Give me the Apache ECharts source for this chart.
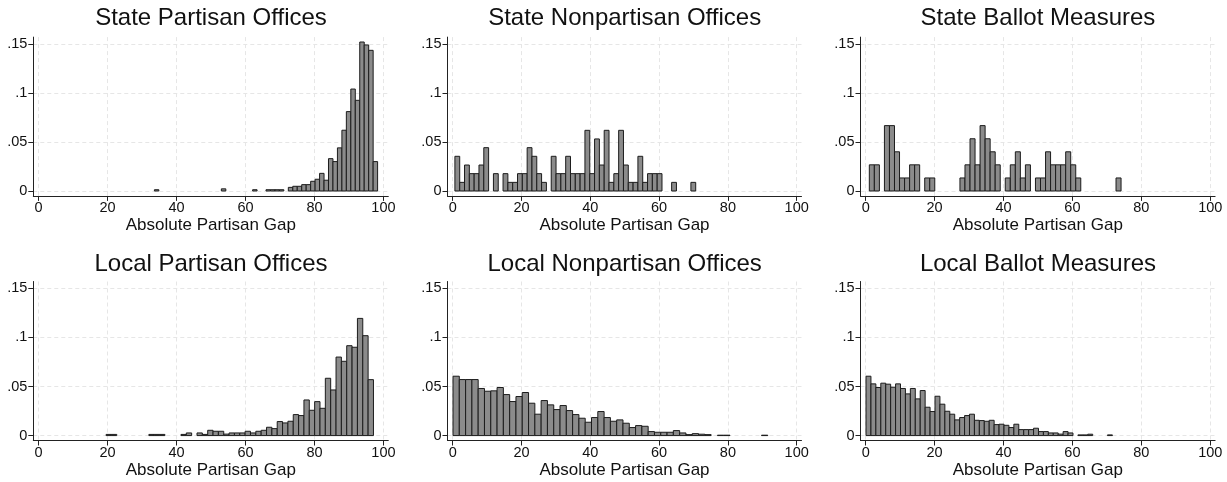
<!DOCTYPE html>
<html><head><meta charset="utf-8">
<script src="https://cdn.jsdelivr.net/npm/echarts@6/dist/echarts.min.js"></script>
<style>html,body{margin:0;padding:0;background:#fff}#c{width:1227px;height:482px}</style>
</head><body><div id="c"></div>
<script>
// ---- data (fractions) ----
const panelTitles = ['State Partisan Offices','State Nonpartisan Offices','State Ballot Measures',
                     'Local Partisan Offices','Local Nonpartisan Offices','Local Ballot Measures'];
const xAxisTitle = 'Absolute Partisan Gap';
const xTickValues = [0,20,40,60,80,100];
const yTickValues = [0,0.05,0.1,0.15];
const yTickLabels = ['0','.05','.1','.15'];

// histogram bins: first edge and bin width per panel (50 bins each)
const binStart = [33.6, 0.65, 1.06, 19.6, 0.1, 0.1];
const binWidth = [1.294, 1.40, 1.461, 1.55, 1.83, 1.43];

const statePartisan = [0.0013,0,0,0,0,0,0,0,0,0,0,0,0,0,0,0.0022,0,0,0,0,0,0,0.0013,0,0,
  0.0013,0.0013,0.0013,0.0013,0,0.0037,0.0048,0.0048,0.0065,0.0065,0.0099,0.012,0.018,0.011,0.033,
  0.030,0.044,0.062,0.081,0.104,0.0925,0.152,0.149,0.1435,0.030];
const stateNonpartisan = [0.0354,0.0088,0.0265,0.0177,0.0177,0.0265,0.0442,0,0.0177,0,
  0.0177,0.0088,0.0088,0.0177,0.0177,0.0442,0.0354,0.0177,0.0088,0,
  0.0354,0.0177,0.0177,0.0354,0.0177,0.0177,0.0177,0.0619,0.0177,0.0531,
  0.0265,0.0619,0.0088,0.0177,0.0619,0.0265,0.0088,0.0088,0.0354,0.0088,
  0.0177,0.0177,0.0177,0,0,0.0088,0,0,0,0.0088];
const stateBallot = [0.0267,0.0267,0,0.0667,0.0667,0.04,0.0133,0.0133,0.0267,0.0267,
  0,0.0133,0.0133,0,0,0,0,0,0.0133,0.0267,
  0.0533,0.0267,0.0667,0.0533,0.04,0.0267,0,0.0133,0.0267,0.04,
  0.0133,0.0267,0,0.0133,0.0133,0.04,0.0267,0.0267,0.0267,0.04,
  0.0267,0.0133,0,0,0,0,0,0,0,0.0133];
const localPartisan = [0.0012,0.0012,0,0,0,0,0,0,0.0012,0.0012,
  0.0012,0,0,0,0.0012,0.0027,0,0.0027,0.0012,0.0054,
  0.0044,0.0044,0.0015,0.0027,0.0027,0.0027,0.0044,0.0027,0.0044,0.0054,
  0.0085,0.0071,0.0143,0.0129,0.0146,0.0214,0.0204,0.0363,0.0258,0.0346,
  0.0278,0.0584,0.0465,0.080,0.0757,0.0916,0.090,0.1194,0.1018,0.057];
const localNonpartisan = [0.0605,0.0571,0.0571,0.0571,0.048,0.0452,0.0456,0.049,0.0418,0.0347,
  0.0398,0.0439,0.033,0.0218,0.0357,0.0313,0.0265,0.0306,0.0255,0.0214,
  0.0177,0.0136,0.0184,0.0245,0.0184,0.0146,0.016,0.0126,0.0082,0.0102,
  0.0095,0.0041,0.0034,0.0034,0.0034,0.0051,0.0027,0.0010,0.0020,0.0014,
  0.0010,0,0.0004,0.0004,0,0,0,0,0,0.0004];
const localBallot = [0.0605,0.0527,0.049,0.0534,0.0524,0.0493,0.0527,0.048,0.0425,0.048,
  0.0374,0.0459,0.0289,0.0245,0.0401,0.032,0.0248,0.0218,0.016,0.0184,
  0.0204,0.0218,0.0156,0.0153,0.0146,0.0156,0.0112,0.0116,0.0105,0.0082,
  0.0116,0.0061,0.0061,0.0061,0.0075,0.0041,0.0041,0.0027,0.0027,0.0015,
  0.0041,0.0027,0,0.0007,0.0007,0.0014,0,0,0,0.0007];
const panelValues = [statePartisan, stateNonpartisan, stateBallot, localPartisan, localNonpartisan, localBallot];

// ---- layout ----
const FONT = '"Liberation Sans", Arial, Helvetica, sans-serif';
const gridLeft = [33.3, 447.5, 860.5];
const gridWidth = [355, 354, 354.6];
const gridTop = [37.1, 281.5];
const gridHeight = [158.8, 159];
const xMin = -1.5, xMax = 101.4, yMin = -0.005, yMax = 0.157;

const grids = [], xAxes = [], yAxes = [], series = [], titles = [];
function yLabel(v){
  let best = 0;
  for (let i = 1; i < yTickValues.length; i++) if (Math.abs(yTickValues[i]-v) < Math.abs(yTickValues[best]-v)) best = i;
  return yTickLabels[best];
}
for (let p = 0; p < 6; p++) {
  const col = p % 3, row = Math.floor(p / 3);
  grids.push({left: gridLeft[col], top: gridTop[row], width: gridWidth[col], height: gridHeight[row], containLabel: false});
  const axisLineStyle = {color: '#222', width: 1};
  xAxes.push({
    type: 'value', gridIndex: p, min: xMin, max: xMax,
    axisLine: {show: true, onZero: false, lineStyle: axisLineStyle},
    axisTick: {show: true, customValues: xTickValues, length: 5, lineStyle: axisLineStyle},
    axisLabel: {customValues: xTickValues, fontSize: 14.5, color: '#111', fontFamily: FONT, margin: 5},
    splitLine: {show: true, lineStyle: {type: [4, 3], color: '#e6e6e6', width: 1}},
    name: xAxisTitle, nameLocation: 'middle', nameGap: 21,
    nameTextStyle: {fontSize: 17, color: '#111', fontFamily: FONT, verticalAlign: 'top'}
  });
  yAxes.push({
    type: 'value', gridIndex: p, min: yMin, max: yMax,
    axisLine: {show: true, onZero: false, lineStyle: axisLineStyle},
    axisTick: {show: true, customValues: yTickValues, length: 5, lineStyle: axisLineStyle},
    axisLabel: {customValues: yTickValues, fontSize: 14.5, color: '#111', fontFamily: FONT, margin: 6, formatter: yLabel},
    splitLine: {show: true, lineStyle: {type: [4, 3], color: '#e6e6e6', width: 1}}
  });
  const vals = panelValues[p];
  const data = [];
  for (let k = 0; k < vals.length; k++) {
    if (vals[k] > 0) {
      const x0 = binStart[p] + k * binWidth[p];
      data.push([x0, x0 + binWidth[p], vals[k]]);
    }
  }
  series.push({
    type: 'custom', xAxisIndex: p, yAxisIndex: p, data: data,
    encode: {x: [0, 1], y: 2},
    renderItem: function (params, api) {
      const p0 = api.coord([api.value(0), 0]);
      const p1 = api.coord([api.value(1), api.value(2)]);
      return {type: 'rect',
        shape: {x: p0[0], y: p1[1], width: p1[0] - p0[0], height: p0[1] - p1[1]},
        style: {fill: '#8b8b8b', stroke: '#1c1c1c', lineWidth: 1}};
    }
  });
  const cx = gridLeft[col] + gridWidth[col] * (50 - xMin) / (xMax - xMin);
  titles.push({text: panelTitles[p], left: cx, top: row === 0 ? 6 : 252, textAlign: 'center', padding: 0,
    textStyle: {fontSize: 24, fontWeight: 'normal', color: '#111', fontFamily: FONT}});
}

const chart = echarts.init(document.getElementById('c'), null, {renderer: 'canvas'});
chart.setOption({
  animation: false, backgroundColor: '#fff',
  title: titles, grid: grids, xAxis: xAxes, yAxis: yAxes, series: series
});
</script></body></html>
